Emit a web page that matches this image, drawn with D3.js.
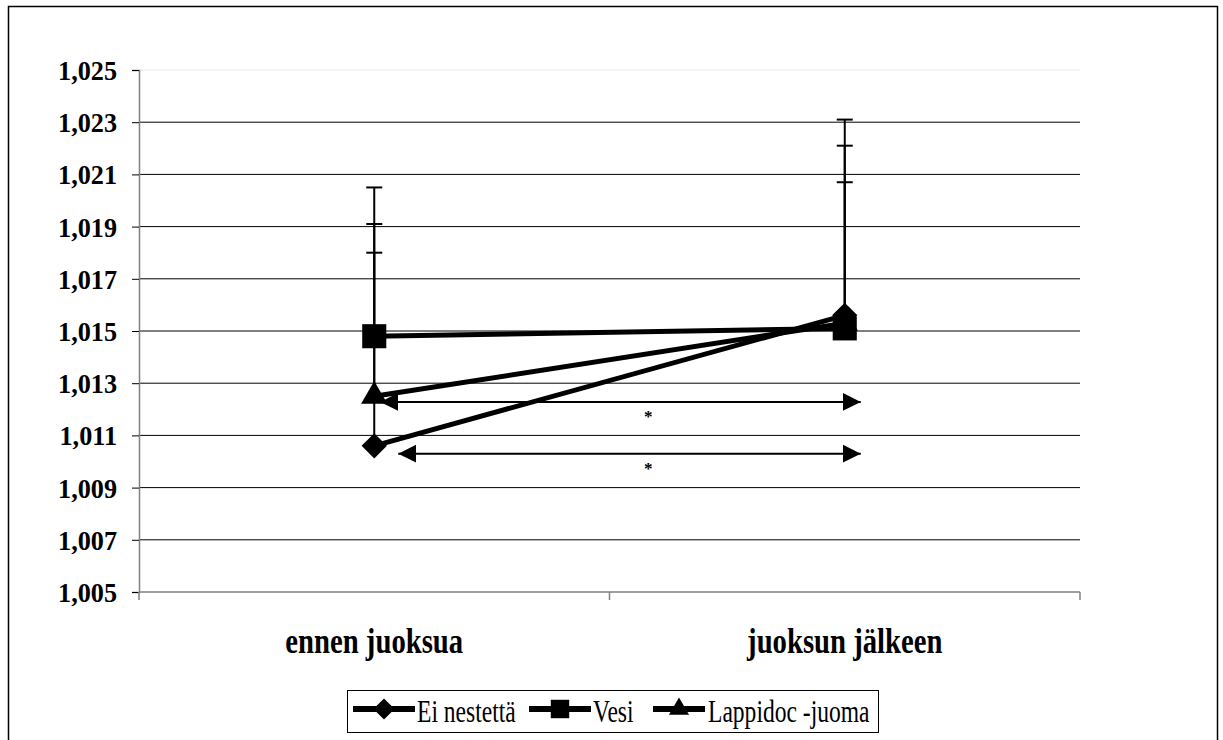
<!DOCTYPE html>
<html>
<head>
<meta charset="utf-8">
<script src="https://cdn.jsdelivr.net/npm/d3@7/dist/d3.min.js"></script>
<style>
  html, body { margin: 0; padding: 0; background: #fff; }
  svg { display: block; }
</style>
</head>
<body>
<svg id="chart" width="1223" height="740"></svg>
<script>
// Urine specific gravity before and after the run, three drink groups
const categories = ["ennen juoksua", "juoksun jälkeen"];
const seriesNames = ["Ei nestettä", "Vesi", "Lappidoc -juoma"];
const eiNestetta = [1.0106, 1.0156];
const vesi = [1.0148, 1.0151];
const lappidoc = [1.0125, 1.0153];
// upper error bars (standard deviation)
const eiNestettaSD = [0.0074, 0.0075];
const vesiSD = [0.0057, 0.0070];
const lappidocSD = [0.0066, 0.0054];
const yTicks = [1.005, 1.007, 1.009, 1.011, 1.013, 1.015, 1.017, 1.019, 1.021, 1.023, 1.025];
// significance arrows (level on the y scale) with their marker text
const sigLevels = [1.01228, 1.01030];
const sigLabels = ["*", "*"];

const FONT = '"Liberation Serif", "Times New Roman", serif';
const svg = d3.select("#chart");
const W = 1223, H = 740;
const plot = { left: 139, right: 1080, top: 70, bottom: 592 };

// text helper: places a string and squeezes/stretches it around its anchor
function label(g, str, px, py, opt) {
  const sx = opt.sx || 1, sy = opt.sy || 1;
  return g.append("text")
    .attr("transform", `translate(${px},${py}) scale(${sx},${sy})`)
    .attr("text-anchor", opt.anchor || "start")
    .style("font-family", FONT)
    .style("font-size", opt.size + "px")
    .style("font-weight", opt.bold ? "bold" : "normal")
    .style("fill", "#000")
    .text(str);
}

svg.append("rect").attr("width", W).attr("height", H).attr("fill", "#fff");
// outer chart frame
svg.append("rect")
  .attr("x", 8.5).attr("y", 6.5).attr("width", 1209).attr("height", 760)
  .attr("fill", "none").attr("stroke", "#000").attr("stroke-width", 1.5);

const x = d3.scaleBand().domain(categories).range([plot.left, plot.right]);
const cx = c => x(c) + x.bandwidth() / 2;
const y = d3.scaleLinear().domain([1.005, 1.025]).range([plot.bottom, plot.top]);
const fmt = v => d3.format(".3f")(v).replace(".", ",");

// gridlines
svg.append("g").selectAll("line")
  .data(yTicks.slice(1, -1))
  .join("line")
  .attr("x1", plot.left).attr("x2", plot.right)
  .attr("y1", d => y(d)).attr("y2", d => y(d))
  .attr("stroke", "#000").attr("stroke-width", 1);
svg.append("line")
  .attr("x1", plot.left).attr("x2", plot.right)
  .attr("y1", y(1.025)).attr("y2", y(1.025))
  .attr("stroke", "#e6e6e6").attr("stroke-width", 1);

// y axis (line + ticks from d3, labels drawn separately)
const yAxis = svg.append("g")
  .attr("transform", `translate(${plot.left},0)`)
  .call(d3.axisLeft(y).tickValues(yTicks).tickFormat("").tickSize(7));
yAxis.select(".domain").attr("stroke", "#808080").attr("stroke-width", 1.5);
yAxis.selectAll(".tick line").attr("stroke", "#000");
const yLab = svg.append("g");
yTicks.forEach(t => label(yLab, fmt(t), 117, y(t) + 10, { size: 27, bold: true, anchor: "end", sx: 0.97, sy: 1.05 }));

// x axis
const xAxisG = svg.append("g").attr("transform", `translate(0,${plot.bottom})`);
xAxisG.append("line")
  .attr("x1", plot.left).attr("x2", plot.right)
  .attr("stroke", "#808080").attr("stroke-width", 1.5);
xAxisG.selectAll("line.tk")
  .data([plot.left, (plot.left + plot.right) / 2, plot.right])
  .join("line").attr("class", "tk")
  .attr("x1", d => d).attr("x2", d => d)
  .attr("y1", 0).attr("y2", 8)
  .attr("stroke", "#808080").attr("stroke-width", 1.5);
const xLab = svg.append("g");
categories.forEach(c => label(xLab, c, cx(c), 653, { size: 35, bold: true, anchor: "middle", sx: 0.82, sy: 1.0 }));

const series = [
  { name: seriesNames[0], values: eiNestetta, sd: eiNestettaSD, symbol: d3.symbolSquare, size: 320, rot: 45, lsize: 225 },
  { name: seriesNames[1], values: vesi, sd: vesiSD, symbol: d3.symbolSquare, size: 580, rot: 0, lsize: 340 },
  { name: seriesNames[2], values: lappidoc, sd: lappidocSD, symbol: d3.symbolTriangle, size: 300, rot: 0, lsize: 175 }
];

// error bars (upper only)
const eb = svg.append("g");
series.forEach(s => {
  s.values.forEach((v, i) => {
    const px = cx(categories[i]);
    eb.append("line")
      .attr("x1", px).attr("x2", px)
      .attr("y1", y(v)).attr("y2", y(v + s.sd[i]))
      .attr("stroke", "#000").attr("stroke-width", 2);
    eb.append("line")
      .attr("x1", px - 8).attr("x2", px + 8)
      .attr("y1", y(v + s.sd[i])).attr("y2", y(v + s.sd[i]))
      .attr("stroke", "#000").attr("stroke-width", 2);
  });
});

// series lines and markers
const line = d3.line().x((d, i) => cx(categories[i])).y(d => y(d));
series.forEach(s => {
  svg.append("path")
    .attr("d", line(s.values))
    .attr("fill", "none").attr("stroke", "#000").attr("stroke-width", 5);
});
series.forEach(s => {
  svg.append("g").selectAll("path")
    .data(s.values)
    .join("path")
    .attr("transform", (d, i) => `translate(${cx(categories[i])},${y(d)}) rotate(${s.rot})`)
    .attr("d", d3.symbol().type(s.symbol).size(s.size))
    .attr("fill", "#000");
});

// significance arrows
const defs = svg.append("defs");
defs.append("marker")
  .attr("id", "ahead").attr("viewBox", "0 0 10 10")
  .attr("refX", 10).attr("refY", 5)
  .attr("markerWidth", 9).attr("markerHeight", 10)
  .attr("markerUnits", "strokeWidth")
  .attr("orient", "auto-start-reverse")
  .append("path").attr("d", "M0,0 L10,5 L0,10 Z").attr("fill", "#000");

const x0 = cx(categories[0]), x1 = cx(categories[1]);
const arrowStarts = [x0 + 6, x0 + 24];
const sigG = svg.append("g");
sigLevels.forEach((lv, i) => {
  sigG.append("line")
    .attr("x1", arrowStarts[i]).attr("x2", x1 + 16)
    .attr("y1", y(lv)).attr("y2", y(lv))
    .attr("stroke", "#000").attr("stroke-width", 2)
    .attr("marker-start", "url(#ahead)")
    .attr("marker-end", "url(#ahead)");
  label(sigG, sigLabels[i], x0 + 274, y(lv) + 20, { size: 17, bold: true, anchor: "middle" });
});

// legend
const lg = svg.append("g");
lg.append("rect")
  .attr("x", 347.5).attr("y", 690.5).attr("width", 531).attr("height", 42)
  .attr("fill", "#fff").attr("stroke", "#000").attr("stroke-width", 1);
const legendItems = [
  { s: series[0], x: 353, w: 62, tx: 417 },
  { s: series[1], x: 529, w: 62, tx: 593 },
  { s: series[2], x: 653, w: 52, tx: 708 }
];
legendItems.forEach(it => {
  const ly = 709;
  lg.append("line")
    .attr("x1", it.x).attr("x2", it.x + it.w)
    .attr("y1", ly).attr("y2", ly)
    .attr("stroke", "#000").attr("stroke-width", 6);
  lg.append("path")
    .attr("transform", `translate(${it.x + it.w / 2},${ly}) rotate(${it.s.rot})`)
    .attr("d", d3.symbol().type(it.s.symbol).size(it.s.lsize))
    .attr("fill", "#000");
  label(lg, it.s.name, it.tx, 722, { size: 31, sx: 0.76 });
});
</script>
</body>
</html>
